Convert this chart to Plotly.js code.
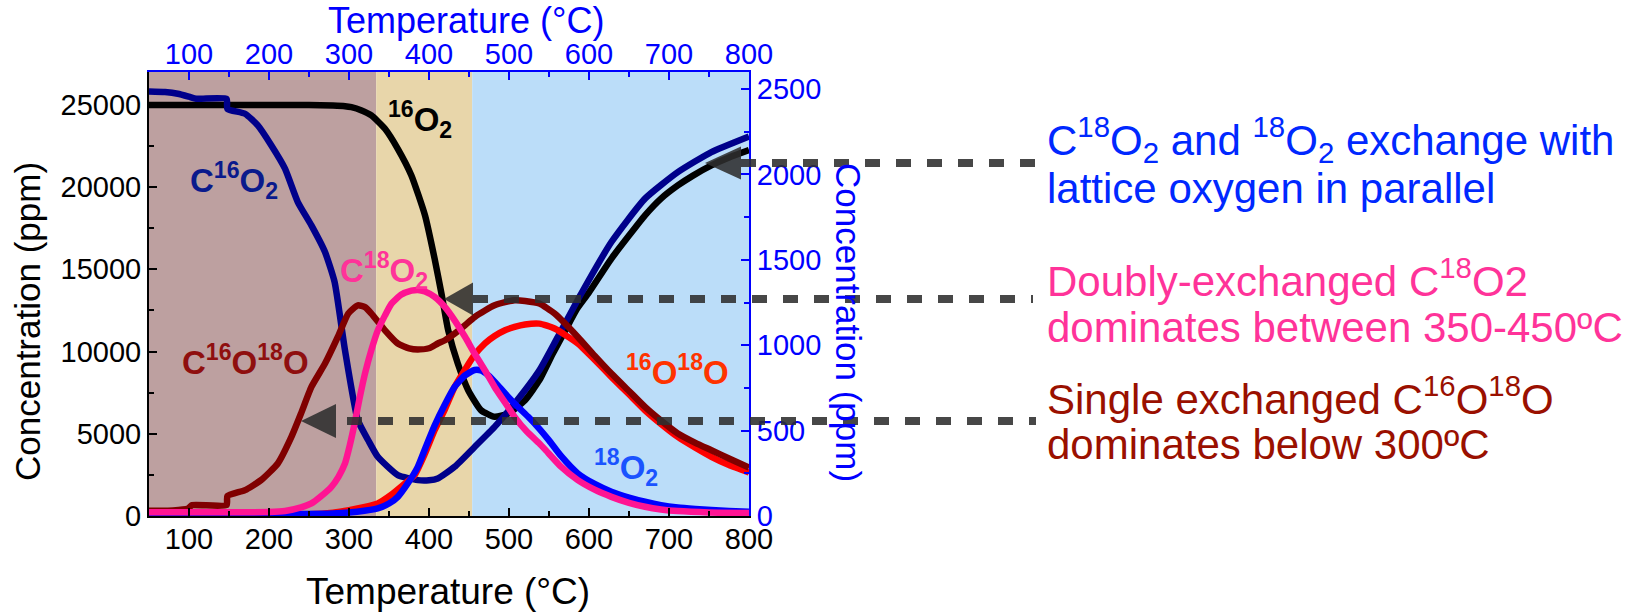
<!DOCTYPE html>
<html>
<head>
<meta charset="utf-8">
<script src="https://cdn.plot.ly/plotly-3.0.1.min.js"></script>
<style>
html,body{margin:0;padding:0;background:#fff;}
#chart{width:1633px;height:613px;}
</style>
</head>
<body>
<div id="chart"></div>
<script>
// ---------- DATA (temperature in °C, concentration in ppm) ----------
const t_16O2 = [50,100,150,200,250,280,295,303,315,328,345,361,378,395,407,416,424,436,449,465,482,499,520,538,555,570,585,600,628,650,670,690,711,730,753,775,800];
const c_16O2 = [25000,25000,25000,25000,24990,24960,24920,24860,24680,24360,23550,22330,20710,18280,15650,13420,11290,9270,7650,6430,6030,6230,7040,8260,9900,11250,12600,13600,15650,17050,18280,19300,20100,20700,21320,21800,22250];

const t_C16O2 = [50,70,86,100,109,147,148,170,186,203,220,236,253,270,282,295,311,324,336,361,386,400,411,432,457,482,507,538,560,590,628,670,711,753,800];
const c_C16O2 = [25815,25780,25680,25500,25370,25370,24760,24460,23750,22530,21120,19090,17670,16050,14230,10080,5830,4610,3600,2485,2180,2170,2280,2990,4200,5420,6840,8860,10800,13500,16660,19300,20910,22130,23080];

const t_C18O2 = [50,100,150,200,220,240,253,265,278,287,295,301,307,313,320,328,336,345,353,365,378,386,395,407,420,432,445,457,470,482,495,507,522,538,545,565,586,607,628,650,670,690,711,750,800];
const c_C18O2 = [230,230,230,240,300,520,765,1200,1775,2400,3195,4300,5625,7100,8660,10100,11290,12200,12910,13450,13700,13750,13650,13320,12700,11900,10900,9880,8850,7850,6900,6030,5150,4410,4050,3000,2180,1600,1165,800,560,400,300,220,190];

const t_C16O18O = [50,80,99,104,147,148,170,190,211,228,240,253,270,286,299,311,320,328,345,361,375,386,400,411,420,432,445,457,470,482,495,507,520,538,557,586,607,628,650,670,690,711,733,753,775,800];
const c_C16O18O = [315,340,460,660,660,1210,1575,2180,3195,4810,6230,7850,9270,10890,12310,12810,12700,12310,11290,10490,10200,10120,10200,10490,10690,11090,11600,12100,12500,12810,13000,13120,13080,12920,12310,10890,9750,8660,7600,6630,5800,5020,4450,4000,3500,2950];

const t_16O18O = [50,150,250,280,300,320,336,353,370,382,395,407,420,432,445,457,470,482,495,507,520,538,557,586,607,628,650,670,690,711,733,753,775,800];
const c_16O18O = [90,90,100,200,350,550,765,1300,1980,2485,3800,5220,6500,7850,8900,9800,10500,10950,11300,11500,11650,11700,11400,10490,9500,8460,7400,6430,5600,4810,4150,3600,3100,2650];

const t_18O2 = [50,150,220,280,310,336,350,361,373,386,396,407,420,432,445,457,465,474,487,499,511,524,538,550,565,586,607,628,650,670,690,711,733,753,775,800];
const c_18O2 = [110,110,115,150,260,460,760,1165,1950,2990,4200,5500,6800,7850,8550,8880,8850,8560,7900,7240,6640,6030,5300,4600,3650,2590,1950,1480,1120,865,660,520,430,360,300,255];

// shaded temperature regimes
const regionStarts = [50, 334, 454];
const regionEnds   = [334, 454, 800];
const regionColors = ['#bda0a0', '#e8d6aa', '#bbddf9'];

// axis ticks
const xTicks = [100,200,300,400,500,600,700,800];
const yTicksLeft = [0,5000,10000,15000,20000,25000];
const yTicksRight = [0,500,1000,1500,2000,2500];

// ---------- LAYOUT HELPERS ----------
const W = 1633, H = 613;
const PL = 149, PR = 749, PT = 72, PB = 516;
const px = x => (x - PL) / (PR - PL);
const py = y => (PB - y) / (PB - PT);
const FONT = 'Arial, "Liberation Sans", Helvetica, sans-serif';
const GREY = 'rgba(45,45,45,0.88)';

function line(t, c, color, name) {
  return {x: t, y: c, type: 'scatter', mode: 'lines', name: name,
          line: {color: color, width: 6.5, shape: 'spline', smoothing: 0.5},
          hoverinfo: 'skip'};
}

const traces = [
  line(t_16O2, c_16O2, '#000000', '16O2'),
  line(t_C16O2, c_C16O2, '#00008b', 'C16O2'),
  line(t_16O18O, c_16O18O, '#ff0000', '16O18O'),
  line(t_C16O18O, c_C16O18O, '#800000', 'C16O18O'),
  line(t_18O2, c_18O2, '#0000ff', '18O2'),
  line(t_C18O2, c_C18O2, '#ff1493', 'C18O2'),
  // invisible trace so the secondary (top / right) axes get drawn
  {x: xTicks.slice(0, yTicksRight.length), y: yTicksRight, xaxis: 'x2', yaxis: 'y2',
   type: 'scatter', mode: 'markers', marker: {opacity: 0, size: 1}, hoverinfo: 'skip'}
];

const shapes = [];
for (let i = 0; i < regionStarts.length; i++) {
  shapes.push({type: 'rect', xref: 'x', yref: 'paper', x0: regionStarts[i], x1: regionEnds[i],
               y0: 0, y1: 1, fillcolor: regionColors[i], line: {width: 0}, layer: 'below'});
}
// dashed pointer lines + arrowheads
const pointers = [
  {y: 163, x0: 741, x1: 1036, tip: 705, base: 741, h: 16.5},
  {y: 299, x0: 473, x1: 1033, tip: 444, base: 473, h: 16.5},
  {y: 421, x0: 347, x1: 1036, tip: 301, base: 336, h: 17}
];
pointers.forEach(p => {
  shapes.push({type: 'line', xref: 'paper', yref: 'paper', x0: px(p.x0), x1: px(p.x1),
               y0: py(p.y), y1: py(p.y), line: {color: GREY, width: 8, dash: '15px,16px'}});
  shapes.push({type: 'path', xref: 'paper', yref: 'paper',
               path: `M ${px(p.tip)},${py(p.y)} L ${px(p.base)},${py(p.y - p.h)} L ${px(p.base)},${py(p.y + p.h)} Z`,
               fillcolor: GREY, line: {width: 0}});
});

function ann(text, x, y, size, color, extra) {
  return Object.assign({text: text, xref: 'paper', yref: 'paper', x: px(x), y: py(y),
    xanchor: 'center', yanchor: 'middle', showarrow: false,
    font: {family: FONT, size: size, color: color}}, extra || {});
}

const annotations = [
  // axis titles
  ann('Temperature (°C)', 448, 591, 37, '#000000'),
  ann('Temperature (°C)', 466, 20, 36, '#0000ff'),
  ann('Concentration (ppm)', 27, 322, 35, '#000000', {textangle: -90}),
  ann('Concentration (ppm)', 849, 322, 35, '#0000ff', {textangle: 90}),
  // curve labels
  ann('<b><sup>16</sup>O<sub>2</sub></b>', 420, 119, 33, '#000000'),
  ann('<b>C<sup>16</sup>O<sub>2</sub></b>', 234, 180, 33, '#0a1a8c'),
  ann('<b>C<sup>18</sup>O<sub>2</sub></b>', 384, 270, 33, '#ff3399'),
  ann('<b>C<sup>16</sup>O<sup>18</sup>O</b>', 245, 360, 33, '#8f0f0f'),
  ann('<b><sup>16</sup>O<sup>18</sup>O</b>', 677, 370, 33, '#ff3300'),
  ann('<b><sup>18</sup>O<sub>2</sub></b>', 626, 467, 33, '#1a53ff'),
  // explanatory text
  ann('C<sup>18</sup>O<sub>2</sub> and <sup>18</sup>O<sub>2</sub> exchange with', 1045, 139, 42, '#0028ff', {xanchor: 'left'}),
  ann('lattice oxygen in parallel', 1045, 188, 42, '#0028ff', {xanchor: 'left'}),
  ann('Doubly-exchanged C<sup>18</sup>O2', 1045, 278, 42, '#ff3399', {xanchor: 'left'}),
  ann('dominates between 350-450ºC', 1045, 327, 42, '#ff3399', {xanchor: 'left'}),
  ann('Single exchanged C<sup>16</sup>O<sup>18</sup>O', 1045, 396, 42, '#9a1000', {xanchor: 'left'}),
  ann('dominates below 300ºC', 1045, 444, 42, '#9a1000', {xanchor: 'left'})
];

const baseX = {range: [50, 800], tickvals: xTicks, ticks: 'inside', ticklen: 8, tickwidth: 2,
  showline: true, linewidth: 2, showgrid: false, zeroline: false, fixedrange: true};

const layout = {
  width: W, height: H,
  margin: {l: PL, r: W - PR, t: PT, b: H - PB, pad: 0},
  paper_bgcolor: '#ffffff', plot_bgcolor: '#ffffff',
  showlegend: false,
  xaxis: Object.assign({}, baseX, {linecolor: '#000000', tickcolor: '#000000', ticklabelstandoff: -4,
    tickfont: {family: FONT, size: 29, color: '#000000'},
    minor: {dtick: 50, tick0: 0, ticks: 'inside', ticklen: 5, tickwidth: 2, tickcolor: '#000000'}}),
  xaxis2: Object.assign({}, baseX, {overlaying: 'x', side: 'top', anchor: 'y',
    linecolor: '#0000ff', tickcolor: '#0000ff', ticklabelstandoff: -6,
    tickfont: {family: FONT, size: 29, color: '#0000ff'},
    minor: {dtick: 50, tick0: 0, ticks: 'inside', ticklen: 5, tickwidth: 2, tickcolor: '#0000ff'}}),
  yaxis: {range: [0, 27000], tickvals: yTicksLeft, tickformat: 'd', ticks: 'inside', ticklen: 8, tickwidth: 2,
    showline: true, linewidth: 2, linecolor: '#000000', tickcolor: '#000000', showgrid: false, zeroline: false,
    fixedrange: true, tickfont: {family: FONT, size: 29, color: '#000000'},
    minor: {dtick: 2500, tick0: 0, ticks: 'inside', ticklen: 5, tickwidth: 2, tickcolor: '#000000'}},
  yaxis2: {range: [0, 2600], tickvals: yTicksRight, tickformat: 'd', overlaying: 'y', side: 'right', anchor: 'x2',
    ticks: 'inside', ticklen: 8, tickwidth: 2,
    showline: true, linewidth: 2, linecolor: '#0000ff', tickcolor: '#0000ff', showgrid: false, zeroline: false,
    fixedrange: true, tickfont: {family: FONT, size: 29, color: '#0000ff'},
    minor: {dtick: 250, tick0: 0, ticks: 'inside', ticklen: 5, tickwidth: 2, tickcolor: '#0000ff'}},
  shapes: shapes,
  annotations: annotations
};

Plotly.newPlot('chart', traces, layout, {staticPlot: true, displayModeBar: false});
</script>
</body>
</html>
